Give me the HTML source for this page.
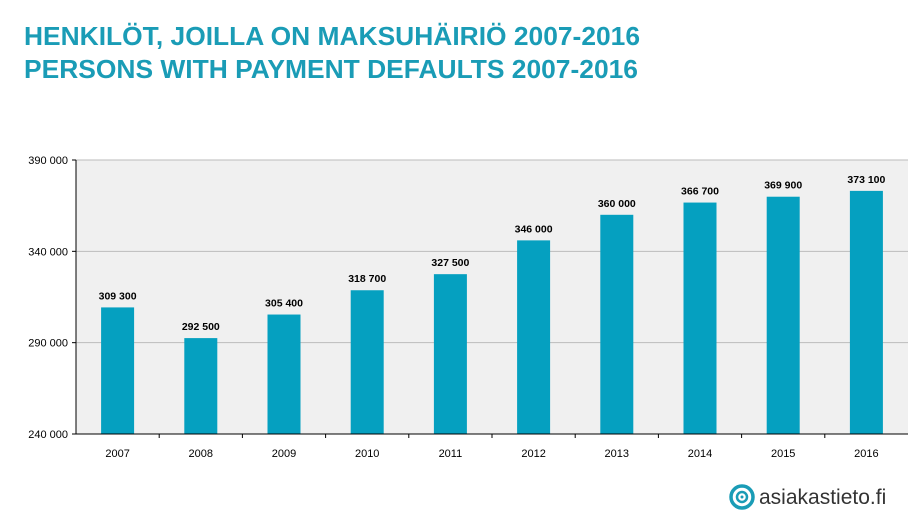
<!DOCTYPE html>
<html><head><meta charset="utf-8"><style>
body{margin:0;background:#fff;width:913px;height:519px;overflow:hidden;font-family:"Liberation Sans",sans-serif}
</style></head><body>
<svg width="913" height="519" xmlns="http://www.w3.org/2000/svg">
<text x="24" y="45" font-size="26" font-weight="bold" fill="#1a9cb6" textLength="616" lengthAdjust="spacingAndGlyphs">HENKILÖT, JOILLA ON MAKSUHÄIRIÖ 2007-2016</text>
<text x="24" y="78" font-size="26" font-weight="bold" fill="#1a9cb6" textLength="614" lengthAdjust="spacingAndGlyphs">PERSONS WITH PAYMENT DEFAULTS 2007-2016</text>
<rect x="76" y="160" width="832" height="274" fill="#f0f0f0"/>
<g id="grid"></g><g id="bars"></g><g id="axes"></g>
<g>
<circle cx="742" cy="497" r="11" fill="none" stroke="#1a9cb6" stroke-width="3.5"/>
<circle cx="742" cy="497" r="5" fill="none" stroke="#1a9cb6" stroke-width="2.5"/>
<circle cx="742" cy="497" r="1.5" fill="#1a9cb6"/>
<text x="759" y="504" font-size="21" fill="#333">asiakastieto.fi</text>
</g>
</svg>
<script>
const categories=["2007","2008","2009","2010","2011","2012","2013","2014","2015","2016"];
const values=[309300,292500,305400,318700,327500,346000,360000,366700,369900,373100];
const yTicks=[240000,290000,340000,390000];
const NS="http://www.w3.org/2000/svg";
const L=76,R=908,T=160,B=434,yMin=240000,yMax=390000;
const y=v=>B-(v-yMin)/(yMax-yMin)*(B-T);
const step=(R-L)/categories.length;
const x=i=>L+step*(i+0.5);
const fmt=v=>String(v).replace(/\B(?=(\d{3})+(?!\d))/g," ");
function mk(tag,attrs,parent,txt){const e=document.createElementNS(NS,tag);for(const k in attrs)e.setAttribute(k,attrs[k]);if(txt!==undefined)e.textContent=txt;document.getElementById(parent).appendChild(e);return e;}
yTicks.forEach(t=>{
 if(t>yMin){const g=mk("line",{x1:L,x2:R,y1:y(t),y2:y(t),stroke:"#bbb","stroke-width":1},"grid");
 
 }
 const tk=mk("line",{x1:L-4,x2:L,y1:y(t),y2:y(t),stroke:"#000"},"axes");
 
 
 const lb=mk("text",{x:L-8,y:y(t)+4,"font-size":11,"text-anchor":"end",fill:"#000"},"axes",fmt(t));
 
 
});
categories.forEach((c,i)=>{
 const b=mk("rect",{x:x(i)-16.5,y:y(values[i]),width:33,height:B-y(values[i]),fill:"#05a0c0"},"bars");
 
 
 const v=mk("text",{x:x(i),y:y(values[i])-8,"font-size":10.5,"font-weight":"bold","text-anchor":"middle",fill:"#000"},"bars",fmt(values[i]));
 
 
 const xl=mk("text",{x:x(i),y:B+23,"font-size":11,"text-anchor":"middle",fill:"#000"},"axes",c);
 
 
 if(i>0){const tk=mk("line",{x1:L+step*i,x2:L+step*i,y1:B,y2:B+4,stroke:"#000"},"axes");
 
 }
});
const ya=mk("line",{x1:L,x2:L,y1:T,y2:B,stroke:"#000"},"axes");


const xa=mk("line",{x1:L,x2:R,y1:B,y2:B,stroke:"#000"},"axes");


</script>
</body></html>
